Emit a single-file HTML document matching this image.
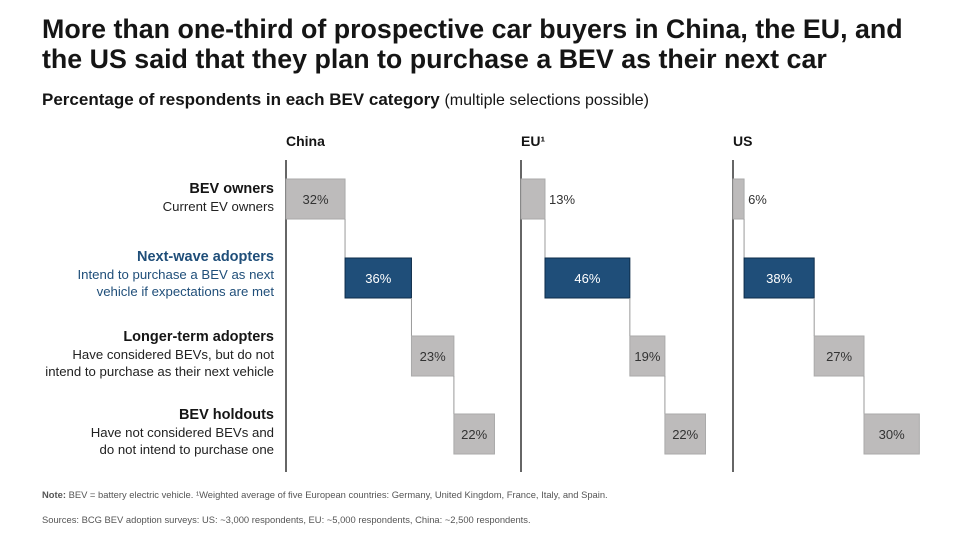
<!DOCTYPE html>
<html><head><meta charset="utf-8"><style>
body{margin:0;width:975px;height:537px;background:#fff;font-family:"Liberation Sans",sans-serif;overflow:hidden;position:relative;color:#111}
.t{position:absolute;left:42px;top:14px;font-size:26.8px;font-weight:bold;line-height:30px;color:#151515}
.s{position:absolute;left:42px;top:90px;font-size:17px;font-weight:bold;color:#151515}
.s span{font-weight:normal;font-size:16px}
.rl{position:absolute;right:701px;text-align:right;font-size:13.2px;line-height:17px;color:#222}
.rl b{font-size:14.5px;color:#151515}
.rl.blue b{color:#1f4e79}.rl.blue{color:#1f4e79}
.n{position:absolute;left:42px;font-size:9.4px;color:#555}
</style></head><body>
<div class="t">More than one-third of prospective car buyers in China, the EU, and<br>the US said that they plan to purchase a BEV as their next car</div>
<div class="s">Percentage of respondents in each BEV category <span>(multiple selections possible)</span></div>
<div class="rl" style="top:180px"><b>BEV owners</b><br>Current EV owners</div>
<div class="rl blue" style="top:248px"><b>Next-wave adopters</b><br>Intend to purchase a BEV as next<br>vehicle if expectations are met</div>
<div class="rl" style="top:328px"><b>Longer-term adopters</b><br>Have considered BEVs, but do not<br>intend to purchase as their next vehicle</div>
<div class="rl" style="top:406px"><b>BEV holdouts</b><br>Have not considered BEVs and<br>do not intend to purchase one</div>
<div class="n" style="top:489px"><b>Note:</b> BEV = battery electric vehicle. ¹Weighted average of five European countries: Germany, United Kingdom, France, Italy, and Spain.</div>
<div class="n" style="top:514px">Sources: BCG BEV adoption surveys: US: ~3,000 respondents, EU: ~5,000 respondents, China: ~2,500 respondents.</div>
<svg id="c" width="975" height="537" style="position:absolute;left:0;top:0"></svg>
<script>
const regions=["China","EU","US"];
const chinaVals=[32,36,23,22];
const euVals=[13,46,19,22];
const usVals=[6,38,27,30];
const categories=["BEV owners","Next-wave adopters","Longer-term adopters","BEV holdouts"];
const series=[chinaVals,euVals,usVals];
const axisX=[286,521,733];
const pxPer=1.845;
const rowTop=[179,258,336,414],barH=40;
const x=(base,v)=>base+v*pxPer;
const svg=document.getElementById('c');
const NS='http://www.w3.org/2000/svg';
function mk(t,a){const e=document.createElementNS(NS,t);for(const k in a)e.setAttribute(k,a[k]);svg.appendChild(e);return e;}
series.forEach((vals,ri)=>{
  const base=axisX[ri];
  const h=mk('text',{x:base,y:146,'font-size':14,'font-weight':'bold','font-family':'Liberation Sans, sans-serif',fill:'#151515'});
  h.textContent=regions[ri]==="EU"?"EU¹":regions[ri];
  
  
  const ax=mk('line',{x1:base,x2:base,y1:160,y2:472,stroke:'#666','stroke-width':2});
  
  
  let cum=0;
  vals.forEach((v,i)=>{
    const x0=x(base,cum),x1=x(base,cum+v);
    const blue=i===1;
    const r=mk('rect',{x:x0,y:rowTop[i],width:x1-x0,height:barH,fill:blue?'#1f4e79':'#bdbbbb',stroke:blue?'#0d2c4a':'#aaa','stroke-width':1});
    
    
    if(i<vals.length-1){
      const c=mk('line',{x1:x1,x2:x1,y1:rowTop[i]+barH,y2:rowTop[i+1],stroke:'#999','stroke-width':1});
      
      
    }
    const inside=(x1-x0)>32;
    const t=mk('text',{x:inside?(x0+x1)/2:x1+4,y:rowTop[i]+barH/2+5,'text-anchor':inside?'middle':'start','font-size':13,'font-family':'Liberation Sans, sans-serif',fill:blue?'#fff':'#333'});
    t.textContent=v+'%';
    
    
    cum+=v;
  });
});
</script>
</body></html>
